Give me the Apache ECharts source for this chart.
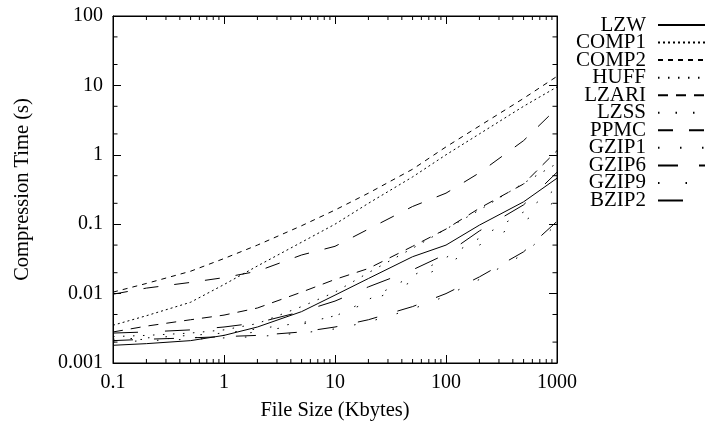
<!DOCTYPE html>
<html><head><meta charset="utf-8">
<script src="https://cdn.jsdelivr.net/npm/echarts@6/dist/echarts.min.js"></script>
<style>html,body{margin:0;padding:0;background:#fff}#c{width:705px;height:421px}</style>
</head><body><div id="c"></div>
<script>
// ---- data (file size in Kbytes, compression time in seconds) ----
const fileSizes = [0.1, 0.2, 0.5, 1, 2, 5, 10, 20, 50, 100, 200, 500, 1000];
const seriesNames = ['LZW','COMP1','COMP2','HUFF','LZARI','LZSS','PPMC','GZIP1','GZIP6','GZIP9','BZIP2'];
const LZW   = [0.0018, 0.0019, 0.0021, 0.0025, 0.0033, 0.0055, 0.0095, 0.0165, 0.034, 0.05, 0.097, 0.21, 0.46];
const COMP1 = [0.0035, 0.0048, 0.0075, 0.0135, 0.025, 0.055, 0.10, 0.20, 0.48, 1.0, 2.0, 5.0, 9.5];
const COMP2 = [0.0105, 0.014, 0.021, 0.032, 0.05, 0.095, 0.16, 0.28, 0.62, 1.3, 2.6, 6.5, 13.5];
const HUFF  = [0.0024, 0.0025, 0.0027, 0.0030, 0.0037, 0.0065, 0.0105, 0.020, 0.045, 0.085, 0.16, 0.39, 0.75];
const LZARI = [0.0028, 0.0034, 0.0042, 0.0049, 0.0062, 0.0105, 0.016, 0.023, 0.048, 0.085, 0.17, 0.38, 1.15];
const LZSS  = [0.0022, 0.0023, 0.0025, 0.0027, 0.0031, 0.0038, 0.0047, 0.0082, 0.018, 0.033, 0.063, 0.15, 0.33];
const PPMC  = [0.0098, 0.012, 0.0145, 0.017, 0.021, 0.036, 0.048, 0.085, 0.18, 0.28, 0.55, 1.6, 4.7];
const GZIP1 = [0.0020, 0.0021, 0.0022, 0.0023, 0.0024, 0.0027, 0.0031, 0.0039, 0.0060, 0.0092, 0.016, 0.037, 0.10];
const GZIP6 = [0.0021, 0.0022, 0.0023, 0.0024, 0.0025, 0.0028, 0.0033, 0.0042, 0.0065, 0.010, 0.0174, 0.04, 0.11];
const GZIP9 = [0.0021, 0.0022, 0.0023, 0.0025, 0.0028, 0.0036, 0.0048, 0.0075, 0.015, 0.026, 0.050, 0.11, 0.22];
const BZIP2 = [0.0027, 0.0028, 0.0030, 0.0033, 0.0038, 0.0055, 0.0078, 0.0125, 0.022, 0.037, 0.080, 0.19, 0.56];
const xTickLabels = ['0.1', '1', '10', '100', '1000'];
const yTickLabels = ['0.001', '0.01', '0.1', '1', '10', '100'];

const valuesByName = {LZW, COMP1, COMP2, HUFF, LZARI, LZSS, PPMC, GZIP1, GZIP6, GZIP9, BZIP2};
const dashByName = {
  LZW: 'solid', COMP1: [2, 3], COMP2: [5, 5], HUFF: [1.5, 8.5], LZARI: [10, 8],
  LZSS: [1.5, 16], PPMC: [15, 16], GZIP1: [1.5, 20.5], GZIP6: [20, 21], GZIP9: [1.5, 26], BZIP2: [25, 27]
};

const FONT = 'Liberation Serif';
const chart = echarts.init(document.getElementById('c'));

const axisCommon = {
  type: 'log', logBase: 10,
  axisLine: {show: true, lineStyle: {color: '#000', width: 1}},
  axisTick: {show: true, inside: true, length: 8, lineStyle: {color: '#000', width: 1}},
  splitLine: {show: false}, minorTick: {show: false}, minorSplitLine: {show: false}
};

const option = {
  animation: false,
  backgroundColor: '#fff',
  grid: {left: 113, top: 16, right: 148, bottom: 58, containLabel: false, outerBoundsMode: 'none',
         show: true, borderColor: '#000', borderWidth: 1, backgroundColor: 'transparent'},
  legend: {
    orient: 'vertical', right: -2, top: 14.5, padding: 0, align: 'right', itemWidth: 48, itemHeight: 10, itemGap: -3.45,
    selectedMode: false, data: seriesNames,
    itemStyle: {opacity: 0, borderWidth: 0},
    textStyle: {fontFamily: FONT, fontSize: 21, color: '#000', padding: [0, 7, 0, 0]}
  },
  xAxis: [
    Object.assign({}, axisCommon, {position: 'bottom', min: 0.1, max: 1000,
      name: 'File Size (Kbytes)', nameLocation: 'middle', nameGap: 37,
      nameTextStyle: {fontFamily: FONT, fontSize: 20.5, color: '#000'},
      axisLabel: {show: true, margin: 10, fontFamily: FONT, fontSize: 20, color: '#000',
        formatter: v => xTickLabels[Math.round(Math.log10(v)) + 1]}}),
    Object.assign({}, axisCommon, {position: 'top', min: 0.1, max: 1000, axisLabel: {show: false}})
  ],
  yAxis: [
    Object.assign({}, axisCommon, {position: 'left', min: 0.001, max: 100,
      name: 'Compression Time (s)', nameLocation: 'middle', nameGap: 80,
      nameTextStyle: {fontFamily: FONT, fontSize: 20.5, color: '#000'},
      axisLabel: {show: true, margin: 10, fontFamily: FONT, fontSize: 20, color: '#000',
        formatter: v => yTickLabels[Math.round(Math.log10(v)) + 3]}}),
    Object.assign({}, axisCommon, {position: 'right', min: 0.001, max: 100, axisLabel: {show: false}})
  ],
  series: seriesNames.map(n => ({
    name: n, type: 'line', xAxisIndex: 0, yAxisIndex: 0, symbol: 'none', silent: true,
    data: fileSizes.map((x, i) => [x, valuesByName[n][i]]),
    lineStyle: {color: '#000', width: 1, type: dashByName[n]},
    itemStyle: {color: '#000'}
  }))
};
chart.setOption(option);

// minor ticks (2..9 on x, 2 and 5 on y), placed through the axes' own scales
const g = [];
const gb = chart.convertToPixel({gridIndex: 0}, [0.1, 0.001]);
const gt = chart.convertToPixel({gridIndex: 0}, [1000, 100]);
const L = gb[0], B = gb[1], R = gt[0], T = gt[1];
for (let e = -1; e <= 2; e++) for (let k = 2; k <= 9; k++) {
  const px = chart.convertToPixel({xAxisIndex: 0}, k * Math.pow(10, e));
  g.push({type: 'line', shape: {x1: px, y1: B, x2: px, y2: B - 4}, style: {stroke: '#000', lineWidth: 1}, silent: true});
  g.push({type: 'line', shape: {x1: px, y1: T, x2: px, y2: T + 4}, style: {stroke: '#000', lineWidth: 1}, silent: true});
}
for (let e = -3; e <= 1; e++) for (const k of [2, 5]) {
  const py = chart.convertToPixel({yAxisIndex: 0}, k * Math.pow(10, e));
  g.push({type: 'line', shape: {x1: L, y1: py, x2: L + 4.5, y2: py}, style: {stroke: '#000', lineWidth: 1}, silent: true});
  g.push({type: 'line', shape: {x1: R, y1: py, x2: R - 4.5, y2: py}, style: {stroke: '#000', lineWidth: 1}, silent: true});
}
chart.setOption({graphic: g});
</script></body></html>
